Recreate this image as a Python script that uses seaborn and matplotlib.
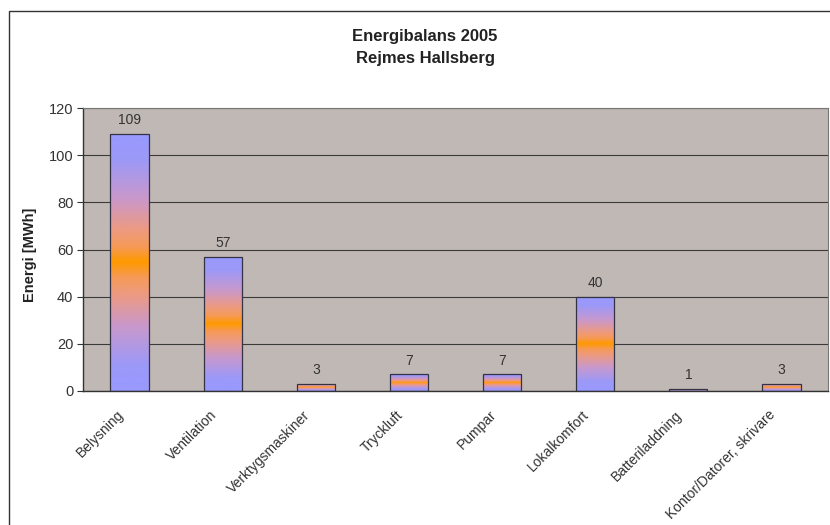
import numpy as np
import pandas as pd
import matplotlib
matplotlib.use("Agg")
import matplotlib.pyplot as plt
import matplotlib.transforms as mtransforms
from matplotlib.colors import LinearSegmentedColormap
from matplotlib.patches import Rectangle
import seaborn as sns

categories = ["Belysning", "Ventilation", "Verktygsmaskiner", "Tryckluft",
              "Pumpar", "Lokalkomfort", "Batteriladdning", "Kontor/Datorer, skrivare"]
energy_mwh = [109, 57, 3, 7, 7, 40, 1, 3]
y_ticks = [0, 20, 40, 60, 80, 100, 120]

sns.set_theme(style="white")
plt.rcParams["font.family"] = ["Liberation Sans", "DejaVu Sans"]

df = pd.DataFrame({"Kategori": categories, "Energi": energy_mwh})

fig = plt.figure(figsize=(8.3, 5.25), dpi=100)
ax = fig.add_axes([83 / 830, 1 - 391 / 525, (828 - 83) / 830, (391 - 108) / 525])

sns.barplot(data=df, x="Kategori", y="Energi", ax=ax, width=0.41,
            color="#9999FF", edgecolor="#333344", linewidth=0.9, zorder=3)

ax.set_facecolor("#C0B8B4")
ax.set_yticks(y_ticks)
ax.set_yticklabels([str(t) for t in y_ticks], fontsize=10.5, color="#333333")
ax.yaxis.grid(True, color="#3a3a3a", linewidth=0.8, zorder=1)
ax.set_axisbelow(True)

# Vertical blue-orange-blue gradient inside each bar, orange peaking in the middle
stops = [(0.0, "#9999FF"), (0.10, "#9C99F8"), (0.25, "#C898CC"), (0.37, "#EC9A84"),
         (0.44, "#F69A58"), (0.50, "#FF9900"), (0.56, "#F69A58"), (0.63, "#EC9A84"),
         (0.75, "#C898CC"), (0.90, "#9C99F8"), (1.0, "#9999FF")]
cmap = LinearSegmentedColormap.from_list("bar_grad", stops)
grad = np.linspace(0, 1, 256).reshape(-1, 1)
for patch in ax.patches:
    x0, y0 = patch.get_x(), patch.get_y()
    w, h = patch.get_width(), patch.get_height()
    im = ax.imshow(grad, cmap=cmap, aspect="auto", extent=(x0, x0 + w, y0, y0 + h),
                   origin="lower", zorder=2.5, interpolation="bilinear")
    im.set_clip_path(patch)
    patch.set_facecolor("none")
ax.set_xlim(-0.5, len(categories) - 0.5)
ax.set_ylim(0, 120)

for i, v in enumerate(energy_mwh):
    ax.annotate(str(v), (i, v), xytext=(0, 5), textcoords="offset points",
                ha="center", va="bottom", fontsize=10, color="#333333")

ax.set_xticks(range(len(categories)))
ax.set_xticklabels(categories, rotation=45, ha="right", rotation_mode="anchor",
                   fontsize=10, color="#333333")
ax.tick_params(axis="x", which="major", length=0, pad=10)
shift = mtransforms.ScaledTranslation(-13 / 100, -3 / 100, fig.dpi_scale_trans)
for lbl in ax.get_xticklabels():
    lbl.set_transform(lbl.get_transform() + shift)
ax.set_xticks(np.arange(-0.5, len(categories)), minor=True)
ax.tick_params(axis="x", which="minor", length=4, color="#333333", width=0.8, direction="out")
ax.tick_params(axis="y", length=4, color="#333333", width=0.8, direction="out", left=True, pad=3)

ax.set_xlabel("")
ax.set_ylabel("Energi [MWh]", fontsize=10.5, fontweight="bold", color="#222222")
ax.yaxis.set_label_coords(-0.062, 0.48)

for side in ["left", "bottom"]:
    ax.spines[side].set_visible(True)
    ax.spines[side].set_color("#333333")
    ax.spines[side].set_linewidth(1.0)
for side in ["top", "right"]:
    ax.spines[side].set_visible(True)
    ax.spines[side].set_color("#777777")
    ax.spines[side].set_linewidth(0.8)

fig.text(425 / 830, 1 - 37 / 525, "Energibalans 2005", ha="center", va="center",
         fontsize=12, fontweight="bold", color="#222222")
fig.text(425 / 830, 1 - 59 / 525, "Rejmes Hallsberg", ha="center", va="center",
         fontsize=12, fontweight="bold", color="#222222")

# Outer chart frame
fig.patches.append(Rectangle((9 / 830, -0.1), 1.2, 1 - 11 / 525 + 0.1,
                             transform=fig.transFigure, fill=False,
                             edgecolor="#333333", linewidth=1.0))

fig.savefig("out.png", dpi=100)
